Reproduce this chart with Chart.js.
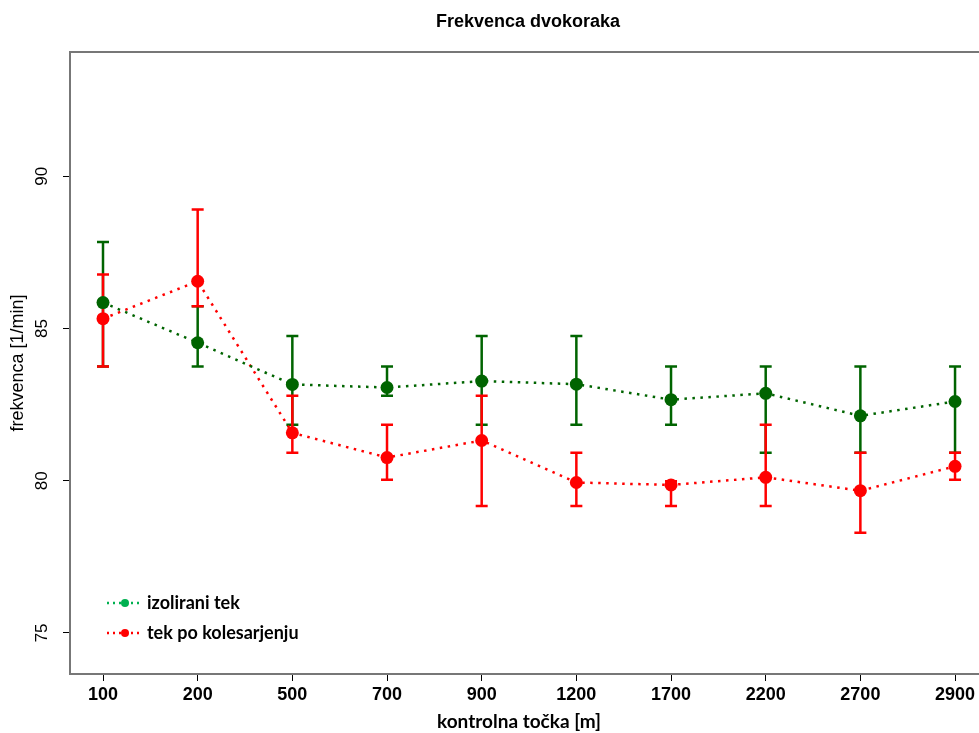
<!DOCTYPE html>
<html>
<head>
<meta charset="utf-8">
<script src="https://cdn.jsdelivr.net/npm/chart.js@4.4.1/dist/chart.umd.min.js"></script>
<style>
    html, body { margin: 0; padding: 0; background: #fff; overflow: hidden; }
    #wrap { width: 1000px; height: 733px; }
</style>
</head>
<body>
<div id="wrap"><canvas id="chart"></canvas></div>
<script>
const xLabels = ['100', '200', '500', '700', '900', '1200', '1700', '2200', '2700', '2900'];
const yTicks = [75, 80, 85, 90];

// izolirani tek (zelena)
const izoliraniMean = [85.85, 84.53, 83.16, 83.06, 83.27, 83.17, 82.66, 82.87, 82.13, 82.60];
const izoliraniLow  = [83.75, 83.75, 81.84, 82.79, 81.84, 81.84, 81.84, 80.92, 80.92, 80.92];
const izoliraniHigh = [87.84, 85.73, 84.75, 83.75, 84.75, 84.75, 83.75, 83.75, 83.75, 83.75];

// tek po kolesarjenju (rdeča)
const kolesMean = [85.32, 86.55, 81.57, 80.76, 81.32, 79.94, 79.86, 80.11, 79.67, 80.47];
const kolesLow  = [83.75, 85.73, 80.92, 80.03, 79.17, 79.17, 79.17, 79.17, 78.29, 80.03];
const kolesHigh = [86.77, 88.91, 82.79, 81.84, 82.79, 80.92, 79.98, 81.84, 80.92, 80.92];

const GREEN = '#006400';
const RED = '#ff0000';
const SANS = '"Liberation Sans", Arial, sans-serif';

const toPoints = arr => arr.map((v, i) => ({ x: i, y: v }));

// error bars, drawn under lines and points
const errorBars = {
    id: 'errorBars',
    beforeDatasetsDraw(chart) {
        const { ctx, scales: { x, y } } = chart;
        const sets = [
            { lo: izoliraniLow, hi: izoliraniHigh, color: GREEN },
            { lo: kolesLow, hi: kolesHigh, color: RED }
        ];
        ctx.save();
        ctx.lineWidth = 2.5;
        sets.forEach(s => {
            ctx.strokeStyle = s.color;
            s.lo.forEach((lo, i) => {
                const px = x.getPixelForValue(i);
                const yl = y.getPixelForValue(lo);
                const yh = y.getPixelForValue(s.hi[i]);
                ctx.beginPath();
                ctx.moveTo(px, yl); ctx.lineTo(px, yh);
                ctx.moveTo(px - 6, yl); ctx.lineTo(px + 6, yl);
                ctx.moveTo(px - 6, yh); ctx.lineTo(px + 6, yh);
                ctx.stroke();
            });
        });
        ctx.restore();
    }
};

// box, titles, rotated y labels and legend like the original
const decorations = {
    id: 'decorations',
    afterDraw(chart) {
        const { ctx, chartArea: a, scales: { y } } = chart;
        ctx.save();
        ctx.strokeStyle = '#777';
        ctx.lineWidth = 2;
        ctx.strokeRect(a.left, a.top, a.right - a.left, a.bottom - a.top);

        ctx.fillStyle = '#000';
        ctx.textAlign = 'center';
        ctx.textBaseline = 'middle';
        ctx.font = 'bold 18px ' + SANS;
        ctx.fillText('Frekvenca dvokoraka', (a.left + a.right) / 2, 22);

        ctx.font = 'bold 19px Lato, sans-serif';
        ctx.fillText('kontrolna točka [m]', 519, 722);

        // y tick labels, rotated as in R
        ctx.font = '17px ' + SANS;
        yTicks.forEach(v => {
            ctx.save();
            ctx.translate(42, y.getPixelForValue(v));
            ctx.rotate(-Math.PI / 2);
            ctx.fillText(String(v), 0, 0);
            ctx.restore();
        });

        ctx.save();
        ctx.translate(18, (a.top + a.bottom) / 2);
        ctx.rotate(-Math.PI / 2);
        ctx.font = '18px ' + SANS;
        ctx.fillText('frekvenca [1/min]', 0, 0);
        ctx.restore();

        const items = [
            { text: 'izolirani tek', color: '#00b050', y: 603 },
            { text: 'tek po kolesarjenju', color: RED, y: 633 }
        ];
        items.forEach(it => {
            ctx.strokeStyle = it.color;
            ctx.fillStyle = it.color;
            ctx.lineWidth = 2.5;
            ctx.setLineDash([2, 4]);
            ctx.beginPath();
            ctx.moveTo(107, it.y); ctx.lineTo(140, it.y);
            ctx.stroke();
            ctx.setLineDash([]);
            ctx.beginPath();
            ctx.arc(125, it.y, 4, 0, Math.PI * 2);
            ctx.fill();
            ctx.fillStyle = '#000';
            ctx.textAlign = 'left';
            ctx.font = 'bold 18px Lato, sans-serif';
            ctx.fillText(it.text, 147, it.y);
        });
        ctx.restore();
    }
};

const lineStyle = color => ({
    borderColor: color,
    backgroundColor: color,
    borderWidth: 2.5,
    borderDash: [2.5, 5.5],
    pointRadius: 6.5,
    pointHoverRadius: 6.5,
    pointBorderWidth: 0,
    fill: false,
    tension: 0
});

new Chart(document.getElementById('chart'), {
    type: 'line',
    data: {
        datasets: [
            { label: 'izolirani tek', data: toPoints(izoliraniMean), ...lineStyle(GREEN) },
            { label: 'tek po kolesarjenju', data: toPoints(kolesMean), ...lineStyle(RED) }
        ]
    },
    options: {
        responsive: true,
        maintainAspectRatio: false,
        animation: false,
        events: [],
        layout: { padding: { top: 52, right: 14, left: 0, bottom: 0 } },
        plugins: { legend: { display: false }, title: { display: false }, tooltip: { enabled: false } },
        scales: {
            x: {
                type: 'linear',
                min: -0.3486,
                max: 9.327,
                afterBuildTicks: s => { s.ticks = xLabels.map((_, i) => ({ value: i })); },
                afterFit: s => { s.height = 59; },
                border: { display: false },
                grid: { drawOnChartArea: false, tickLength: 7, tickColor: '#000', tickWidth: 1 },
                ticks: {
                    color: '#000',
                    padding: 3,
                    maxRotation: 0,
                    font: { family: SANS, size: 18, weight: 'bold' },
                    callback: v => xLabels[v]
                }
            },
            y: {
                min: 73.65,
                max: 94.08,
                afterBuildTicks: s => { s.ticks = yTicks.map(v => ({ value: v })); },
                afterFit: s => { s.width = 70; },
                border: { display: false },
                grid: { drawOnChartArea: false, tickLength: 7, tickColor: '#000', tickWidth: 1 },
                ticks: { display: false }
            }
        }
    },
    plugins: [errorBars, decorations]
});
</script>
</body>
</html>
